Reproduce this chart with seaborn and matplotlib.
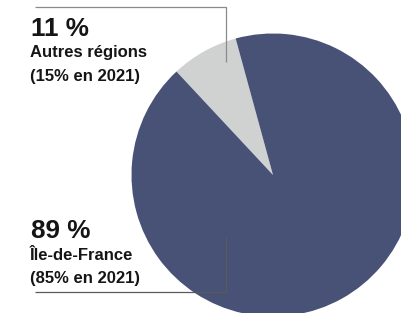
import matplotlib
matplotlib.use("Agg")
import matplotlib.pyplot as plt
import seaborn as sns

# data
categories = ["Autres régions", "Île-de-France"]
shares = [11, 89]
shares_2021 = [15, 85]
# wedge sizes as drawn in the reference picture (gray slice is narrower than 11 %)
wedge_sizes = [7.7, 92.3]
colors = ["#d0d2d1", "#485176"]

W, H = 401, 313


def y(px):
    return H - px


def main():
    sns.set_theme(style="white")
    plt.rcParams['font.family'] = ['Liberation Sans', 'DejaVu Sans']

    fig = plt.figure(figsize=(W / 100, H / 100), dpi=100)
    ax = fig.add_axes([0, 0, 1, 1])

    ax.pie(wedge_sizes, colors=colors, startangle=105.3, counterclock=True,
           center=(273, y(175)), radius=141.5,
           wedgeprops=dict(linewidth=0))

    ax.set_xlim(0, W)
    ax.set_ylim(0, H)
    ax.set_aspect('auto')
    ax.axis('off')

    # leader lines
    ax.plot([35, 226, 226], [y(7), y(7), y(62)], color="#8a8a8a", lw=0.9,
            solid_capstyle='butt')
    ax.plot([35, 226, 226], [y(292), y(292), y(237)], color="#5a5a5a", lw=0.9,
            solid_capstyle='butt')

    # labels
    big = dict(fontsize=18.8, fontweight='bold', color="#151515",
               va='baseline', ha='left')
    small = dict(fontsize=12, fontweight='bold', color="#151515",
                 va='baseline', ha='left')

    ax.text(31, y(35.7), f"{shares[0]} %", **big)
    ax.text(30, y(56.7), categories[0], **small)
    ax.text(30, y(81), f"({shares_2021[0]}% en 2021)", **small)

    ax.text(31, y(237.7), f"{shares[1]} %", **big)
    ax.text(30, y(260.3), categories[1], **small)
    ax.text(30, y(283), f"({shares_2021[1]}% en 2021)", **small)

    fig.savefig("out.png", dpi=100)


if __name__ == "__main__":
    main()
